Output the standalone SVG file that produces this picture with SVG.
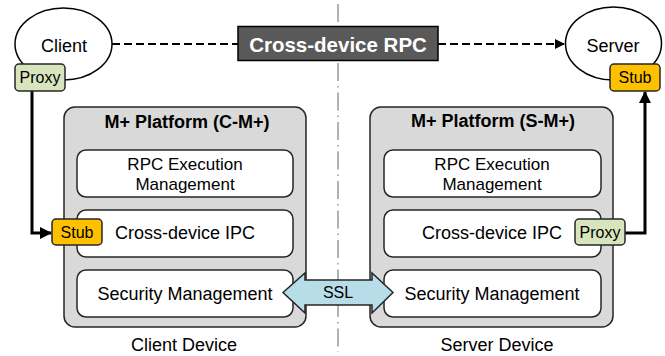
<svg xmlns="http://www.w3.org/2000/svg" width="665" height="356" viewBox="0 0 665 356">
<style>
text{font-family:"Liberation Sans",Arial,sans-serif;fill:#000}
.lbl{font-size:18px;text-anchor:middle}
.lbl2{font-size:17px;text-anchor:middle}
.title{font-size:18px;font-weight:bold;text-anchor:middle}
.small{font-size:16px;text-anchor:middle}
.plat{fill:#d9d9d9;stroke:#262626;stroke-width:1.5}
.inner{fill:#fff;stroke:#262626;stroke-width:1.5}
.ell{fill:#fff;stroke:#000;stroke-width:1.5}
.stub{fill:#ffc000;stroke:#262626;stroke-width:1.5}
.proxy{fill:#d7e4bd;stroke:#262626;stroke-width:1.5}
.dash{fill:none;stroke:#000;stroke-width:2.2;stroke-dasharray:8 4}
.solid{fill:none;stroke:#000;stroke-width:3}
</style>
<defs>
<marker id="ah" markerWidth="10" markerHeight="10" refX="9" refY="5" orient="auto" markerUnits="userSpaceOnUse"><path d="M0,0 L10,5 L0,10 Z" fill="#000"/></marker>
<marker id="ah2" markerWidth="12" markerHeight="12" refX="11" refY="6" orient="auto" markerUnits="userSpaceOnUse"><path d="M0,0 L12,6 L0,12 Z" fill="#000"/></marker>
</defs>
<rect width="665" height="356" fill="#fff"/>
<line x1="338" y1="4" x2="338" y2="352" stroke="#999" stroke-width="1.5" stroke-dasharray="18 5 1.5 5"/>
<g id="client-platform">
<rect class="plat" x="64" y="107" width="242" height="220" rx="11"/>
<text class="title" x="187" y="128">M+ Platform (C-M+)</text>
<text class="lbl" x="184" y="351">Client Device</text>
</g>
<g id="c-rpc"><rect class="inner" x="77" y="150" width="216" height="47" rx="9"/><text class="lbl2" x="185" y="170">RPC Execution</text><text class="lbl2" x="185" y="189.5">Management</text></g>
<g id="c-ipc"><rect class="inner" x="77" y="210" width="216" height="47" rx="9"/><text class="lbl" x="185" y="239">Cross-device IPC</text></g>
<g id="c-sec"><rect class="inner" x="77" y="270" width="216" height="47" rx="9"/><text class="lbl" x="185" y="300">Security Management</text></g>
<g id="server-platform">
<rect class="plat" x="370" y="107" width="243" height="220" rx="11"/>
<text class="title" x="493" y="127">M+ Platform (S-M+)</text>
<text class="lbl" x="497" y="351">Server Device</text>
</g>
<g id="s-rpc"><rect class="inner" x="384" y="150" width="217" height="47" rx="9"/><text class="lbl2" x="492" y="170">RPC Execution</text><text class="lbl2" x="492" y="189.5">Management</text></g>
<g id="s-ipc"><rect class="inner" x="384" y="210" width="217" height="47" rx="9"/><text class="lbl" x="492" y="239">Cross-device IPC</text></g>
<g id="s-sec"><rect class="inner" x="384" y="270" width="217" height="47" rx="9"/><text class="lbl" x="492" y="300">Security Management</text></g>
<g id="connectors">
<line class="dash" x1="112" y1="44" x2="238" y2="44"/>
<line class="dash" x1="438" y1="44" x2="564" y2="44" marker-end="url(#ah)"/>
<polyline class="solid" points="32,91 32,233 51,233" marker-end="url(#ah2)"/>
<polyline class="solid" points="625,233 645,233 645,92" marker-end="url(#ah2)"/>
</g>
<g id="ssl">
<path d="M283,292.5 L305,273 L305,280 L372,280 L372,273 L393,292.5 L372,313 L372,305 L305,305 L305,313 Z" fill="#b7dee8" stroke="#262626" stroke-width="1.5"/>
<text class="small" x="338" y="298">SSL</text>
</g>
<g id="client"><ellipse class="ell" cx="63.5" cy="44" rx="48.5" ry="36"/><text class="lbl" x="64" y="52">Client</text></g>
<g id="server"><ellipse class="ell" cx="613.5" cy="43.5" rx="48" ry="36.5"/><text class="lbl" x="613" y="52">Server</text></g>
<g id="rpc"><rect x="238" y="26.5" width="200" height="34" fill="#595959" stroke="#000" stroke-width="1.5"/><text x="338" y="52" style="font-size:20.5px;font-weight:bold;text-anchor:middle;fill:#fff">Cross-device RPC</text></g>
<g id="c-proxy"><rect class="proxy" x="15" y="64" width="50" height="27" rx="4"/><text class="small" x="40" y="83">Proxy</text></g>
<g id="s-stub"><rect class="stub" x="610" y="64" width="50" height="27" rx="4"/><text class="small" x="635" y="83">Stub</text></g>
<g id="c-stub"><rect class="stub" x="52" y="219" width="50" height="26" rx="4"/><text class="small" x="77" y="238">Stub</text></g>
<g id="s-proxy"><rect class="proxy" x="575" y="219" width="50" height="26" rx="4"/><text class="small" x="600" y="238">Proxy</text></g>
</svg>
